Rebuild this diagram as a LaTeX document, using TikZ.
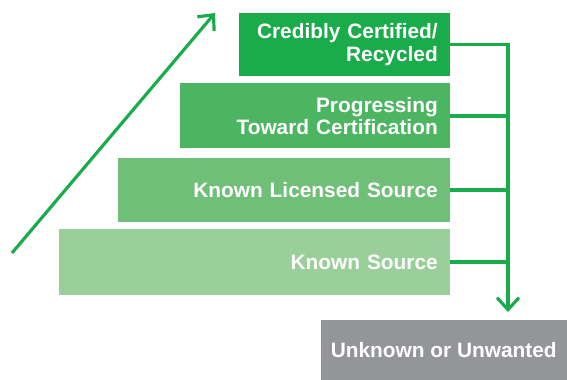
\documentclass[tikz,border=0pt]{standalone}
\usepackage{fontspec}
\setmainfont{Liberation Sans}
\usetikzlibrary{arrows.meta}
\definecolor{certgreen}{RGB}{26,171,75}
\definecolor{proggreen}{RGB}{76,181,98}
\definecolor{licgreen}{RGB}{112,191,121}
\definecolor{srcgreen}{RGB}{154,207,154}
\definecolor{unkgray}{RGB}{147,149,152}

\begin{document}
\begin{tikzpicture}[x=0.3cm, y=0.3cm,
		level/.style={rectangle, anchor=east, inner xsep=0.36cm, inner ysep=0pt, align=right, text=white, font=\bfseries\fontsize{17.8}{19.5}\selectfont},
		link/.style={line width=2.7pt, draw=certgreen},
		tip/.style={-{Straight Barb[length=3.6mm, width=6.6mm]}}]
			%%%%% START %%%%%
			
			\useasboundingbox (0, 0) rectangle (56.7, 38);
			
			\node[level, fill=certgreen, minimum height=1.9cm, text width=5.6cm] (certified) at (45, 33.55) {Credibly Certified/\\Recycled};
			\node[level, fill=proggreen, minimum height=1.95cm, text width=7.38cm] (progressing) at (45, 26.4) {Progressing\\Toward Certification};
			\node[level, fill=licgreen, minimum height=1.9cm, text width=9.23cm] (licensed) at (45, 19.0) {Known Licensed Source};
			\node[level, fill=srcgreen, minimum height=1.98cm, text width=11.01cm] (source) at (45, 11.8) {Known Source};
			
			\node[level, anchor=south east, fill=unkgray, inner xsep=0.1cm, minimum width=7.38cm, minimum height=1.8cm, align=center] (unknown) at (56.7, 0) {Unknown or Unwanted};
			
			% rising arrow
			\coordinate (rise start) at (1.2, 12.7);
			\coordinate (rise end) at (21.5, 36.7);
			\draw[link, tip] (rise start) -- (rise end);
			
			% bracket down to the grey box
			\coordinate (spine) at (50.8, 6.8);
			\draw[link, tip] (certified.east) -| (spine);
			\draw[link] (progressing.east) -- (progressing.east -| spine);
			\draw[link] (licensed.east) -- (licensed.east -| spine);
			\draw[link] (source.east) -- (source.east -| spine);
			
			%%%%% END %%%%%
		\end{tikzpicture}
\end{document}
